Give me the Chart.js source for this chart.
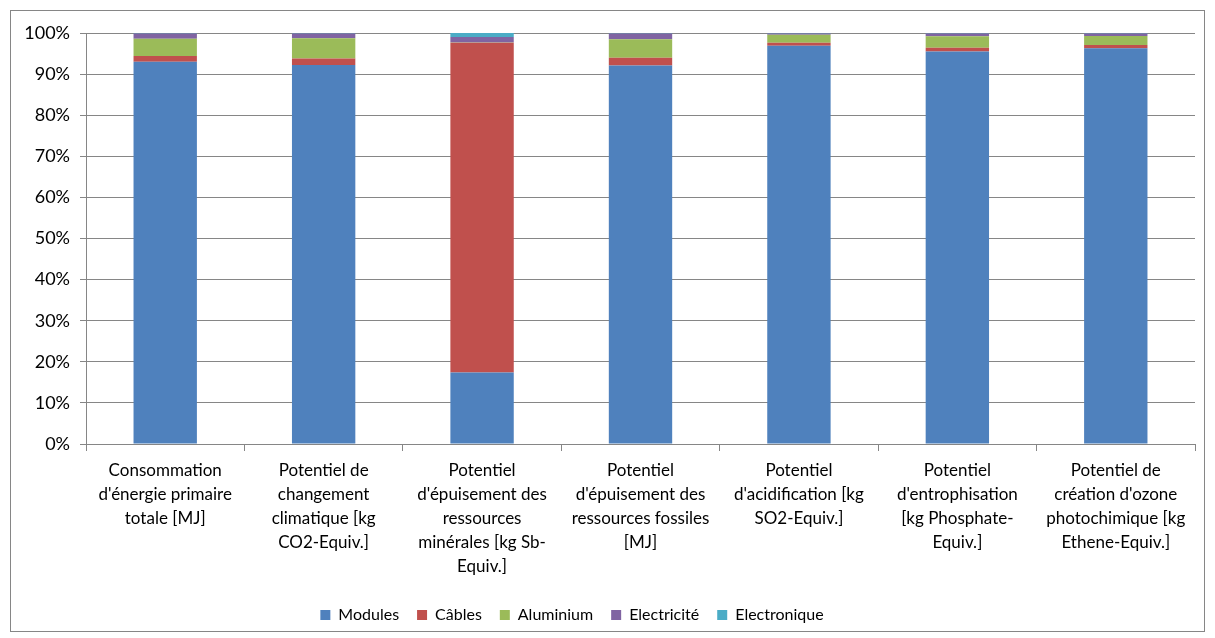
<!DOCTYPE html>
<html>
<head>
<meta charset="utf-8">
<script src="https://cdn.jsdelivr.net/npm/chart.js@4/dist/chart.umd.min.js"></script>
<style>
  body { margin: 0; background: #fff; }
  #frame { position: absolute; left: 10px; top: 10px; width: 1193px; height: 620px; border: 1px solid #868686; overflow: hidden; }
</style>
</head>
<body>
<div id="frame"><canvas id="graph" width="1193" height="624"></canvas></div>
<script>
const categories = [
  ["Consommation", "d'énergie primaire", "totale [MJ]"],
  ["Potentiel de", "changement", "climatique [kg", "CO2-Equiv.]"],
  ["Potentiel", "d'épuisement des", "ressources", "minérales [kg Sb-", "Equiv.]"],
  ["Potentiel", "d'épuisement des", "ressources fossiles", "[MJ]"],
  ["Potentiel", "d'acidification [kg", "SO2-Equiv.]"],
  ["Potentiel", "d'entrophisation", "[kg Phosphate-", "Equiv.]"],
  ["Potentiel de", "création d'ozone", "photochimique [kg", "Ethene-Equiv.]"]
];
// shares in %
const modules      = [93.0, 92.2, 17.4, 92.1, 96.9, 95.5, 96.3];
const cables       = [1.4, 1.6, 80.2, 1.9, 0.7, 0.9, 0.8];
const aluminium    = [4.2, 4.9, 0.1, 4.5, 2.0, 2.8, 2.2];
const electricite  = [1.3, 1.2, 1.3, 1.4, 0.3, 0.7, 0.6];
const electronique = [0.1, 0.1, 1.0, 0.1, 0.1, 0.1, 0.1];

const font = "Lato, 'Open Sans', sans-serif";
const grey = "#868686";

function ds(label, data, color) {
  return { label: label, data: data, backgroundColor: color, barPercentage: 0.4, categoryPercentage: 1 };
}

// the legend sits a bit left of centre in the original
const legendShift = {
  id: "legendShift",
  afterLayout(chart) {
    chart.legend.left -= 36;
    chart.legend.right -= 36;
  }
};

new Chart(document.getElementById("graph"), {
  type: "bar",
  data: {
    labels: categories,
    datasets: [
      ds("Modules", modules, "#4F81BD"),
      ds("Câbles", cables, "#C0504D"),
      ds("Aluminium", aluminium, "#9BBB59"),
      ds("Electricité", electricite, "#8064A2"),
      ds("Electronique", electronique, "#4BACC6")
    ]
  },
  plugins: [legendShift],
  options: {
    responsive: false,
    animation: false,
    layout: { padding: { left: 10, right: 9, top: 22, bottom: 2 } },
    plugins: {
      tooltip: { enabled: false },
      legend: {
        position: "bottom",
        labels: { boxWidth: 10, boxHeight: 10, color: "#000", font: { family: font, size: 16 }, padding: 18 }
      }
    },
    scales: {
      x: {
        stacked: true,
        afterFit: s => { s.height += 3; },
        grid: { offset: true, drawOnChartArea: false, color: grey, tickLength: 7 },
        border: { color: grey },
        ticks: { color: "#000", font: { family: font, size: 17, lineHeight: 1.4 }, maxRotation: 0, autoSkip: false, padding: 8 }
      },
      y: {
        stacked: true,
        min: 0, max: 100,
        afterFit: s => { s.width = 65; },
        grid: { color: grey, tickLength: 6 },
        border: { color: grey },
        ticks: { stepSize: 10, color: "#000", font: { family: font, size: 18 }, padding: 10, callback: v => v + "%" }
      }
    }
  }
});
</script>
</body>
</html>
